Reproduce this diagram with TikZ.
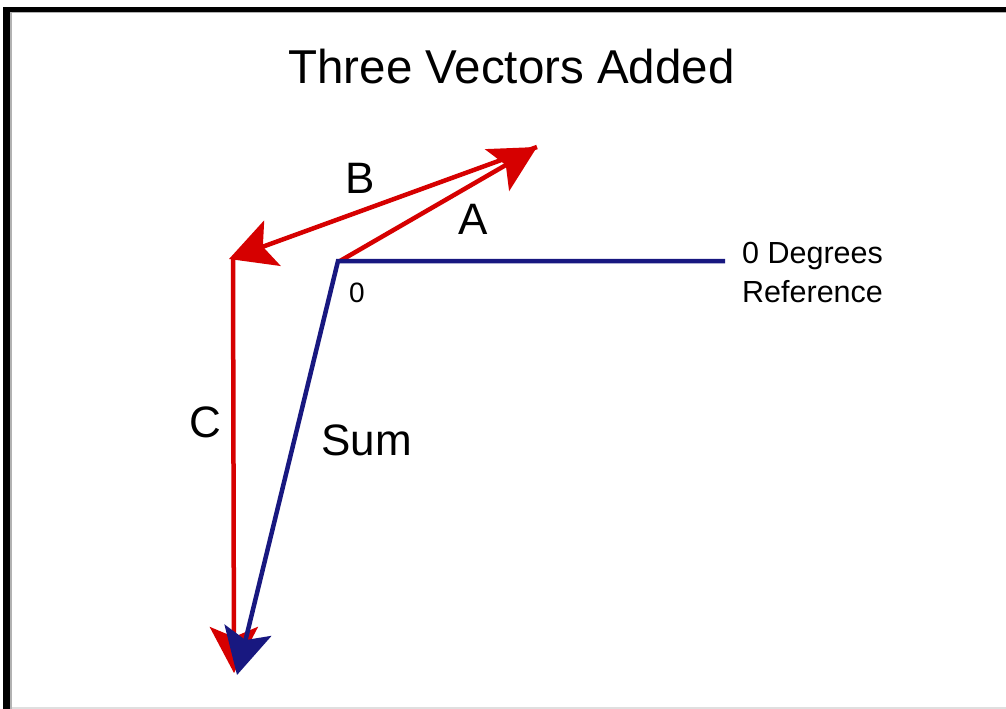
\documentclass[tikz,border=0pt]{standalone}
\usepackage{fontspec}
\setmainfont{Liberation Sans}
\usetikzlibrary{arrows.meta}
\definecolor{vred}{RGB}{214,0,0}
\definecolor{vblue}{RGB}{24,24,128}
\tikzset{
  lbl/.style={inner sep=0pt, anchor=base west},
  redvec/.style={draw=vred, line width=4.5pt, -{Stealth[length=46pt,width=48pt,inset=10pt]}},
  bluevec/.style={draw=vblue, line width=4.5pt, -{Stealth[length=46pt,width=48pt,inset=10pt]}},
}
\newcommand{\fs}[1]{\fontsize{#1}{#1}\selectfont}
\begin{document}
\begin{tikzpicture}[x=1pt,y=-1pt]
\useasboundingbox (0,0) rectangle (1006,709);
\fill[white] (0,0) rectangle (1006,709);
% frame
\fill[black] (3,7) rectangle (10,709);
\fill[black] (3,7) rectangle (1006,12);
\fill[gray!60] (10,12) rectangle (11.5,709);
\fill[gray!60] (10,12) rectangle (1006,13.5);
\fill[gray!25] (11.5,707) rectangle (1006,709);
% points
\coordinate (O) at (340,261);
\coordinate (Corner) at (338,261);
\coordinate (Ref) at (725,261);
\coordinate (Atip) at (537,147);
\coordinate (Btip) at (229,259);
\coordinate (Cstart) at (233,257);
\coordinate (Ctip) at (234,673);
\coordinate (Stip) at (237,675);
% red vectors
\draw[redvec] (O) -- (Atip);
\draw[redvec] (Atip) -- (Btip);
\draw[redvec] (Cstart) -- (Ctip);
% reference line and sum
\draw[bluevec, line join=miter] (Ref) -- (Corner) -- (Stip);
% labels
\node[inner sep=0pt, anchor=base] (title) at (511.5,83) {\fs{47.5}Three Vectors Added};
\node[lbl] (lB) at (345,193) {\fs{44}B};
\node[lbl] (lA) at (458,234) {\fs{44}A};
\node[lbl] (lC) at (189,437) {\fs{44}C};
\node[lbl] (lSum) at (321,455) {\fs{44}Sum};
\node[lbl] (l0) at (349,302) {\fs{28}0};
\node[lbl] (lDeg) at (742,263) {\fs{30.5}0 Degrees};
\node[lbl] (lRef) at (742,302) {\fs{30.5}Reference};
\end{tikzpicture}
\end{document}
